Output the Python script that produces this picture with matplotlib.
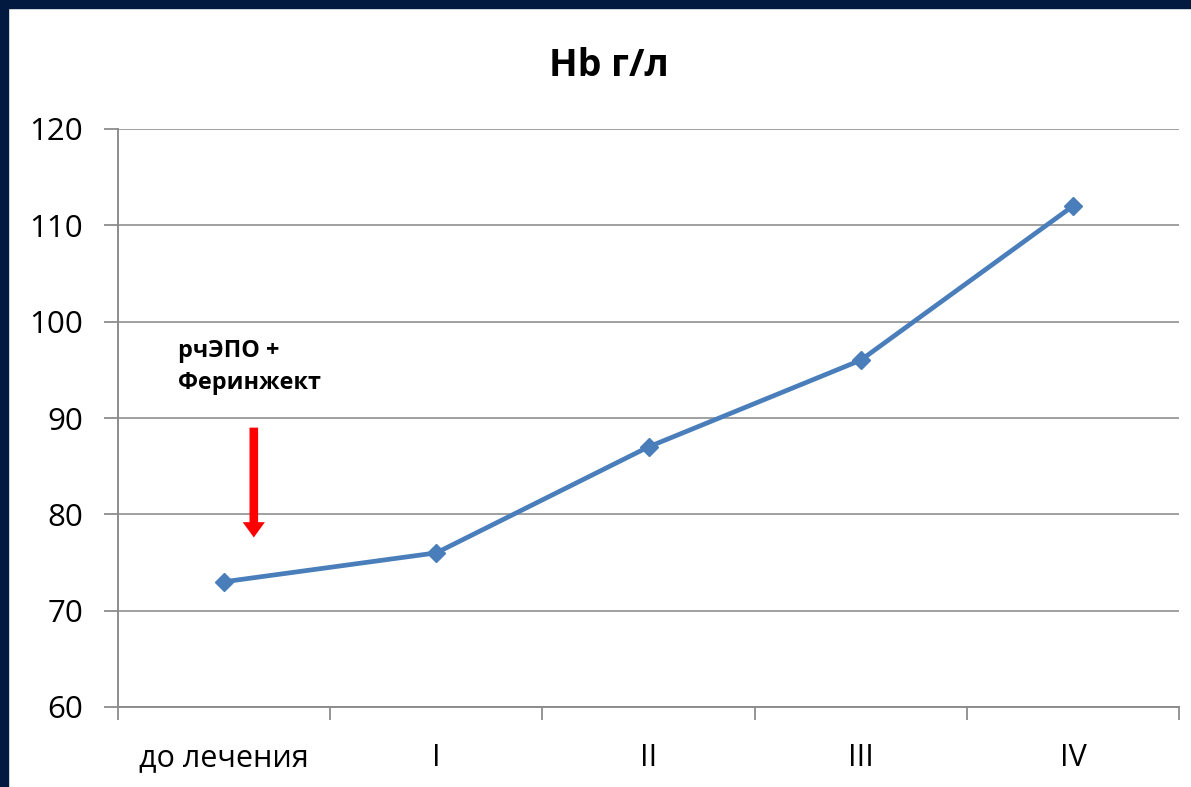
import matplotlib
matplotlib.use("Agg")
import matplotlib.pyplot as plt
from matplotlib.patches import Rectangle

categories = ["до лечения", "I", "II", "III", "IV"]
hb_values = [73, 76, 87, 96, 112]
y_ticks = [60, 70, 80, 90, 100, 110, 120]
title = "Hb г/л"
annotation = "рчЭПО +\nФеринжект"

plt.rcParams['font.family'] = ['Open Sans', 'DejaVu Sans']

W, H = 1191, 787
fig = plt.figure(figsize=(W / 100, H / 100), dpi=100, facecolor="white")
navy = "#021a40"
fig.patches.append(Rectangle((0, 0), 8 / W, 1, transform=fig.transFigure, color=navy, zorder=0))
fig.patches.append(Rectangle((0, 1 - 8 / H), 1, 8 / H, transform=fig.transFigure, color=navy, zorder=0))

ax = fig.add_axes([118 / W, 1 - 707 / H, (1179 - 118) / W, (707 - 129) / H])
x = list(range(len(categories)))
ax.plot(x, hb_values, color="#4a7ebb", lw=3.4, marker="D", markersize=9.5,
        markerfacecolor="#4a7ebb", markeredgecolor="#4a7ebb", zorder=3, clip_on=False)

ax.set_xlim(-0.5, len(categories) - 0.5)
ax.set_ylim(60, 120)
ax.set_yticks(y_ticks)
ax.set_yticklabels([str(v) for v in y_ticks], fontsize=22.5)
ax.set_xticks(x)
ax.set_xticklabels(categories, fontsize=22)
ax.set_xticks([i - 0.5 for i in range(len(categories) + 1)], minor=True)
ax.tick_params(axis="x", which="major", length=0, pad=26)
ax.tick_params(axis="x", which="minor", length=9, width=1.3, color="#8c8c8c")
ax.tick_params(axis="y", length=10, width=1.3, color="#8c8c8c", pad=15)

ax.grid(axis="y", color="#a0a0a0", lw=1.4)
ax.set_axisbelow(True)
for s in ["top", "right"]:
    ax.spines[s].set_visible(False)
for s in ["left", "bottom"]:
    ax.spines[s].set_color("#8c8c8c")
    ax.spines[s].set_linewidth(1.4)

fig.text(609 / W, 1 - 66 / H, title, fontsize=27, fontweight="bold", ha="center", va="center")

ax.text(-0.215, 98.2, annotation, fontsize=16.8, fontweight="bold", ha="left", va="top",
        linespacing=1.42)
ax.annotate("", xy=(0.14, 77.6), xytext=(0.14, 89),
            arrowprops=dict(arrowstyle="simple,head_length=1.1,head_width=1.6,tail_width=0.62",
                            color="#ff0000", lw=0, shrinkA=0, shrinkB=0))

fig.savefig("out.png", dpi=100, facecolor=fig.get_facecolor())
